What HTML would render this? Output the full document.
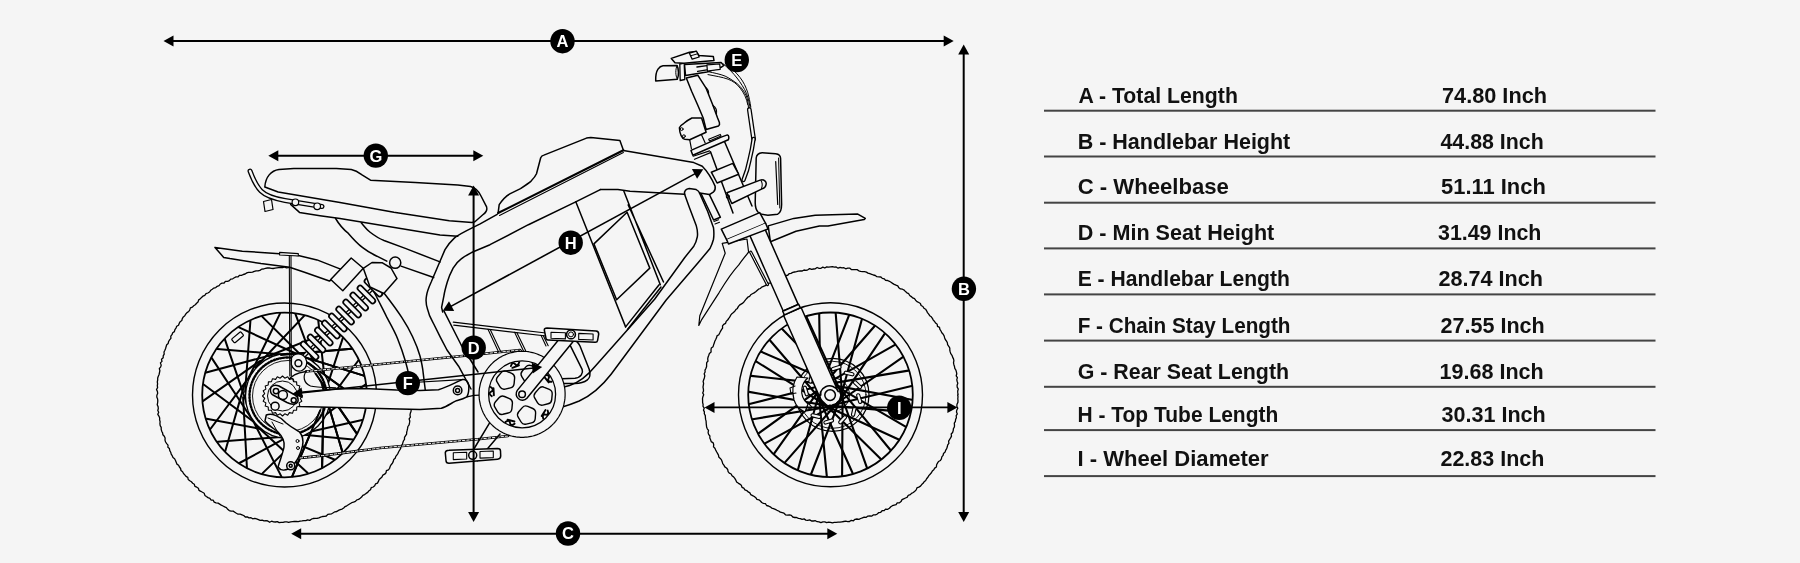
<!DOCTYPE html>
<html><head><meta charset="utf-8"><style>
html,body{margin:0;padding:0;background:#f5f5f5;}
svg{display:block;will-change:transform;}
text{font-family:"Liberation Sans",sans-serif;}
.t{font-size:22px;font-weight:700;fill:#111;}
</style></head><body>
<svg width="1800" height="563" viewBox="0 0 1800 563">
<rect width="1800" height="563" fill="#f5f5f5"/>
<g fill="none" stroke="#000" stroke-linejoin="round" stroke-linecap="round" stroke-width="1.5">
<path d="M957.6,394.8 L958.0,396.7 L957.8,398.6 L958.0,400.5 L957.9,402.4 L957.0,404.3 L956.8,406.2 L957.8,408.2 L956.8,410.0 L956.5,411.9 L957.3,413.9 L956.2,415.7 L956.4,417.7 L955.6,419.4 L955.4,421.3 L954.3,423.1 L954.5,425.1 L954.4,427.0 L953.4,428.7 L953.2,430.6 L952.6,432.5 L951.2,434.0 L951.5,436.1 L950.6,437.9 L949.6,439.5 L948.6,441.1 L948.9,443.3 L947.7,444.9 L947.3,446.8 L946.7,448.6 L945.6,450.3 L945.1,452.1 L943.5,453.5 L943.1,455.4 L941.8,456.9 L941.4,458.9 L940.4,460.5 L938.5,461.5 L937.5,463.2 L936.6,464.8 L936.4,467.0 L934.7,468.1 L933.8,469.8 L932.3,471.1 L931.4,472.8 L930.1,474.2 L928.8,475.6 L927.9,477.3 L926.6,478.8 L925.7,480.5 L924.2,481.7 L923.1,483.3 L921.7,484.6 L920.5,486.1 L918.8,487.1 L916.9,487.9 L916.2,489.9 L914.8,491.3 L913.3,492.5 L911.5,493.4 L910.2,494.7 L908.2,495.3 L907.3,497.2 L905.5,498.0 L903.7,498.8 L902.0,499.6 L901.0,501.6 L899.5,502.8 L897.2,502.8 L896.1,504.6 L894.2,505.1 L892.4,505.7 L890.8,506.8 L889.4,508.3 L887.8,509.3 L885.5,509.1 L884.2,510.6 L882.1,510.7 L880.7,512.3 L878.8,512.6 L877.3,514.0 L875.5,514.8 L873.5,514.8 L871.9,516.1 L869.8,515.8 L867.9,516.1 L866.3,517.3 L864.2,517.1 L862.5,517.8 L860.7,518.5 L858.9,519.3 L856.9,519.0 L855.0,519.3 L853.4,520.8 L851.3,520.3 L849.6,521.5 L847.7,521.7 L845.7,521.2 L843.8,521.5 L841.9,521.8 L840.0,522.1 L838.1,522.2 L836.2,522.3 L834.3,522.4 L832.4,522.9 L830.5,522.3 L828.6,522.2 L826.7,522.6 L824.8,521.8 L822.9,521.8 L820.9,522.6 L819.1,521.8 L817.2,521.7 L815.4,520.7 L813.4,521.0 L811.5,521.0 L809.7,519.9 L807.7,520.4 L805.8,520.1 L804.1,518.9 L802.1,519.3 L800.3,518.6 L798.4,518.4 L796.6,517.5 L794.7,517.5 L792.8,517.0 L791.3,515.4 L789.5,514.9 L787.4,515.1 L785.5,514.8 L784.0,513.2 L782.2,512.7 L780.3,512.2 L778.7,511.0 L777.0,510.3 L775.3,509.4 L773.5,508.7 L771.7,508.1 L770.2,506.8 L768.5,506.0 L766.6,505.5 L765.4,503.7 L763.4,503.3 L761.7,502.5 L760.4,501.0 L758.9,499.8 L756.9,499.4 L755.8,497.7 L754.3,496.5 L752.6,495.6 L750.8,494.7 L749.9,492.9 L748.2,491.9 L746.8,490.6 L744.9,489.9 L743.8,488.2 L742.0,487.3 L741.3,485.3 L739.8,484.1 L738.2,483.1 L736.6,481.9 L735.8,480.1 L734.8,478.4 L733.6,476.9 L732.0,475.8 L731.2,474.0 L729.3,473.1 L728.1,471.6 L727.7,469.5 L726.5,468.0 L724.8,466.9 L723.9,465.1 L722.7,463.7 L722.2,461.7 L721.5,459.9 L720.3,458.4 L718.8,457.1 L718.5,455.1 L717.5,453.4 L716.6,451.8 L715.7,450.1 L714.9,448.3 L713.5,446.9 L713.7,444.7 L713.2,442.9 L711.2,441.6 L710.6,439.8 L709.8,438.0 L709.9,436.0 L708.6,434.4 L708.1,432.6 L708.5,430.4 L707.3,428.8 L706.6,427.0 L706.4,425.1 L706.2,423.2 L706.1,421.2 L705.6,419.4 L705.4,417.5 L705.3,415.6 L704.3,413.8 L704.4,411.9 L703.5,410.1 L704.3,408.1 L703.0,406.3 L703.1,404.3 L702.6,402.5 L702.6,400.5 L702.5,398.6 L702.9,396.7 L703.7,394.8 L702.7,392.9 L703.5,391.0 L703.4,389.1 L703.0,387.2 L703.3,385.3 L703.6,383.4 L703.1,381.4 L703.8,379.6 L704.4,377.7 L704.8,375.8 L704.2,373.8 L705.1,372.0 L705.0,370.1 L706.0,368.3 L706.6,366.5 L706.6,364.6 L706.7,362.6 L708.0,361.0 L707.7,358.9 L708.1,357.0 L708.8,355.3 L709.4,353.4 L711.1,352.0 L711.0,349.9 L711.3,348.0 L713.1,346.7 L713.6,344.8 L714.3,343.1 L714.8,341.2 L715.7,339.5 L716.5,337.8 L717.0,335.9 L718.8,334.7 L719.7,333.0 L720.5,331.3 L721.5,329.7 L722.6,328.1 L722.5,325.8 L723.7,324.3 L725.6,323.3 L726.2,321.4 L727.6,320.0 L728.7,318.5 L729.8,316.9 L730.7,315.2 L731.9,313.7 L733.4,312.5 L734.8,311.2 L735.9,309.6 L737.4,308.4 L738.3,306.6 L739.5,305.1 L741.1,304.1 L742.8,303.1 L744.1,301.7 L745.3,300.2 L746.5,298.7 L747.8,297.2 L749.6,296.4 L750.7,294.8 L752.4,293.8 L754.1,292.9 L755.7,291.8 L757.1,290.5 L758.5,289.2 L760.3,288.5 L761.7,287.1 L763.5,286.4 L765.3,285.7 L766.7,284.3 L768.3,283.2 L770.4,283.1 L771.8,281.7 L773.5,280.9 L774.9,279.4 L776.6,278.6 L778.7,278.5 L780.2,277.0 L782.0,276.4 L784.0,276.4 L785.7,275.5 L787.7,275.3 L789.1,273.7 L791.0,273.3 L792.8,272.4 L794.6,272.0 L796.5,271.7 L798.3,271.1 L800.3,270.8 L802.3,271.0 L804.0,270.0 L806.0,270.4 L807.8,269.8 L809.6,268.6 L811.6,269.4 L813.5,269.0 L815.3,268.8 L817.1,267.5 L819.1,268.3 L821.0,268.3 L822.8,267.1 L824.8,268.0 L826.7,266.9 L828.6,267.1 L830.5,266.8 L832.4,266.7 L834.3,267.2 L836.2,267.0 L838.1,268.2 L840.1,267.3 L841.9,267.8 L843.9,267.7 L845.7,268.8 L847.7,268.1 L849.6,268.1 L851.3,269.6 L853.2,269.6 L855.2,269.6 L857.1,269.6 L858.8,270.8 L860.6,271.4 L862.5,271.7 L864.5,271.7 L866.4,272.1 L868.0,273.1 L869.8,273.7 L871.7,274.3 L873.4,275.0 L875.3,275.5 L876.9,276.7 L878.9,276.8 L880.9,277.0 L882.3,278.4 L884.2,278.8 L885.6,280.4 L887.7,280.5 L889.4,281.3 L891.0,282.3 L892.6,283.4 L894.2,284.4 L896.0,285.2 L897.8,285.9 L898.9,287.8 L900.4,288.9 L902.5,289.2 L904.2,290.1 L905.5,291.6 L906.9,292.8 L908.7,293.7 L909.7,295.5 L911.3,296.6 L912.7,297.9 L914.5,298.7 L915.6,300.2 L917.0,301.6 L918.8,302.5 L920.4,303.5 L921.1,305.5 L922.9,306.5 L923.9,308.2 L925.6,309.2 L926.6,310.8 L927.5,312.6 L928.7,314.1 L929.7,315.7 L931.3,316.8 L932.4,318.4 L933.3,320.1 L934.6,321.5 L935.6,323.1 L937.2,324.3 L937.5,326.4 L939.5,327.4 L939.9,329.4 L941.0,331.0 L941.8,332.7 L943.2,334.2 L944.1,335.9 L944.6,337.7 L945.3,339.5 L946.5,341.1 L947.4,342.7 L947.6,344.7 L948.8,346.3 L949.8,348.0 L949.8,350.0 L950.2,351.9 L950.8,353.7 L952.0,355.3 L952.6,357.1 L953.5,358.9 L953.9,360.7 L953.5,362.8 L953.9,364.7 L954.5,366.5 L954.8,368.4 L955.9,370.1 L956.4,371.9 L956.8,373.8 L956.2,375.8 L957.4,377.6 L956.8,379.6 L957.2,381.5 L957.8,383.3 L957.1,385.3 L957.2,387.2 L958.3,389.1 L957.7,391.0 L957.8,392.9 L958.1,394.8" stroke-width="1.3"/>
<circle cx="830.5" cy="394.8" r="92.0" stroke-width="1.4"/>
<circle cx="830.5" cy="394.8" r="82.3" stroke-width="1.8"/>
<line x1="911.8" y1="399.8" x2="832.3" y2="385.1" stroke-width="2.1"/>
<line x1="910.1" y1="412.4" x2="829.6" y2="405.6" stroke-width="2.1"/>
<line x1="905.5" y1="426.6" x2="835.7" y2="385.9" stroke-width="2.1"/>
<line x1="898.7" y1="439.5" x2="825.4" y2="405.8" stroke-width="2.1"/>
<line x1="890.4" y1="450.0" x2="839.1" y2="387.7" stroke-width="2.1"/>
<line x1="880.8" y1="458.9" x2="823.2" y2="402.3" stroke-width="2.1"/>
<line x1="866.9" y1="467.7" x2="840.0" y2="391.5" stroke-width="2.1"/>
<line x1="852.7" y1="473.2" x2="819.6" y2="399.7" stroke-width="2.1"/>
<line x1="842.1" y1="475.5" x2="842.6" y2="394.9" stroke-width="2.1"/>
<line x1="826.8" y1="476.2" x2="818.9" y2="395.9" stroke-width="2.1"/>
<line x1="811.1" y1="474.0" x2="840.3" y2="398.6" stroke-width="2.1"/>
<line x1="798.0" y1="469.5" x2="819.5" y2="391.8" stroke-width="2.1"/>
<line x1="785.0" y1="462.4" x2="838.3" y2="401.7" stroke-width="2.1"/>
<line x1="774.1" y1="453.7" x2="820.6" y2="387.8" stroke-width="2.1"/>
<line x1="765.0" y1="443.3" x2="835.8" y2="404.5" stroke-width="2.1"/>
<line x1="758.6" y1="433.3" x2="824.1" y2="385.9" stroke-width="2.1"/>
<line x1="752.7" y1="419.2" x2="832.4" y2="406.2" stroke-width="2.1"/>
<line x1="749.5" y1="404.0" x2="827.7" y2="384.0" stroke-width="2.1"/>
<line x1="749.1" y1="391.9" x2="828.5" y2="406.0" stroke-width="2.1"/>
<line x1="751.2" y1="375.9" x2="831.6" y2="384.6" stroke-width="2.1"/>
<line x1="756.1" y1="361.4" x2="824.4" y2="404.4" stroke-width="2.1"/>
<line x1="761.3" y1="351.8" x2="835.3" y2="383.8" stroke-width="2.1"/>
<line x1="769.9" y1="340.3" x2="822.5" y2="401.7" stroke-width="2.1"/>
<line x1="782.2" y1="329.1" x2="838.5" y2="387.0" stroke-width="2.1"/>
<line x1="793.7" y1="322.1" x2="819.8" y2="398.5" stroke-width="2.1"/>
<line x1="806.5" y1="316.9" x2="840.1" y2="390.4" stroke-width="2.1"/>
<line x1="819.2" y1="314.1" x2="820.5" y2="395.0" stroke-width="2.1"/>
<line x1="835.7" y1="313.5" x2="842.1" y2="393.9" stroke-width="2.1"/>
<line x1="849.0" y1="315.4" x2="819.7" y2="390.6" stroke-width="2.1"/>
<line x1="861.8" y1="319.5" x2="840.6" y2="397.5" stroke-width="2.1"/>
<line x1="874.5" y1="326.2" x2="821.5" y2="387.0" stroke-width="2.1"/>
<line x1="884.6" y1="333.9" x2="839.6" y2="400.9" stroke-width="2.1"/>
<line x1="894.9" y1="344.9" x2="824.8" y2="384.7" stroke-width="2.1"/>
<line x1="902.8" y1="357.2" x2="836.6" y2="403.5" stroke-width="2.1"/>
<line x1="908.3" y1="370.6" x2="828.7" y2="383.9" stroke-width="2.1"/>
<line x1="911.5" y1="386.0" x2="833.0" y2="405.1" stroke-width="2.1"/>
<circle cx="832.5" cy="394.8" r="36.5" stroke-width="1.3"/>
<circle cx="832.5" cy="394.8" r="33.5" stroke-width="0.9"/>
<rect x="-5" y="-1.6" width="10" height="3.2" rx="1.6" transform="translate(859.2,398.6) rotate(73.0)" fill="#f5f5f5" stroke-width="1.1"/>
<rect x="-5" y="-1.6" width="10" height="3.2" rx="1.6" transform="translate(853.8,411.4) rotate(103.0)" fill="#f5f5f5" stroke-width="1.1"/>
<rect x="-5" y="-1.6" width="10" height="3.2" rx="1.6" transform="translate(842.6,419.8) rotate(133.0)" fill="#f5f5f5" stroke-width="1.1"/>
<rect x="-5" y="-1.6" width="10" height="3.2" rx="1.6" transform="translate(828.7,421.5) rotate(163.0)" fill="#f5f5f5" stroke-width="1.1"/>
<rect x="-5" y="-1.6" width="10" height="3.2" rx="1.6" transform="translate(815.9,416.1) rotate(193.0)" fill="#f5f5f5" stroke-width="1.1"/>
<rect x="-5" y="-1.6" width="10" height="3.2" rx="1.6" transform="translate(807.5,404.9) rotate(223.0)" fill="#f5f5f5" stroke-width="1.1"/>
<rect x="-5" y="-1.6" width="10" height="3.2" rx="1.6" transform="translate(805.8,391.0) rotate(253.0)" fill="#f5f5f5" stroke-width="1.1"/>
<rect x="-5" y="-1.6" width="10" height="3.2" rx="1.6" transform="translate(811.2,378.2) rotate(283.0)" fill="#f5f5f5" stroke-width="1.1"/>
<rect x="-5" y="-1.6" width="10" height="3.2" rx="1.6" transform="translate(822.4,369.8) rotate(313.0)" fill="#f5f5f5" stroke-width="1.1"/>
<rect x="-5" y="-1.6" width="10" height="3.2" rx="1.6" transform="translate(836.3,368.1) rotate(343.0)" fill="#f5f5f5" stroke-width="1.1"/>
<rect x="-5" y="-1.6" width="10" height="3.2" rx="1.6" transform="translate(849.1,373.5) rotate(373.0)" fill="#f5f5f5" stroke-width="1.1"/>
<rect x="-5" y="-1.6" width="10" height="3.2" rx="1.6" transform="translate(857.5,384.7) rotate(403.0)" fill="#f5f5f5" stroke-width="1.1"/>
<circle cx="832.5" cy="394.8" r="17.0" stroke-width="1.0"/>
<path d="M797,377 C793,383 792,392 794,400 C796,406 800,410 805,412 L808,404 C803,400 801,394 802,388 C803,383 805,380 808,378 Z" stroke-width="1.2" fill="#f5f5f5"/>
<path d="M795,386 L790,388 L791,394 L796,393" stroke-width="1.1"/>
<path d="M411.2,377.2 L410.5,379.2 L410.9,381.1 L410.9,383.0 L411.1,384.9 L412.1,386.7 L412.2,388.6 L411.5,390.6 L411.5,392.5 L411.9,394.4 L412.3,396.3 L412.4,398.2 L412.2,400.1 L411.9,402.0 L411.2,403.9 L411.4,405.8 L410.9,407.7 L411.2,409.6 L411.0,411.5 L410.3,413.3 L410.0,415.2 L410.4,417.2 L409.1,418.9 L409.8,421.0 L409.5,422.9 L409.1,424.8 L407.9,426.5 L407.6,428.4 L407.2,430.2 L406.7,432.1 L406.6,434.1 L405.6,435.7 L404.5,437.4 L404.5,439.4 L403.4,441.0 L402.8,442.9 L402.3,444.7 L400.6,446.1 L400.8,448.2 L399.8,449.9 L398.8,451.5 L398.0,453.3 L397.0,454.9 L395.8,456.4 L395.2,458.3 L393.7,459.6 L393.2,461.6 L392.4,463.3 L391.1,464.7 L390.2,466.4 L389.6,468.3 L388.4,469.8 L386.4,470.7 L386.0,472.8 L384.7,474.2 L382.8,475.2 L382.0,476.9 L380.6,478.2 L379.2,479.5 L378.4,481.4 L377.5,483.1 L375.5,483.9 L374.7,485.8 L373.2,487.0 L371.2,487.7 L370.5,489.8 L368.9,490.8 L367.7,492.4 L366.1,493.4 L364.6,494.6 L362.8,495.4 L361.6,497.1 L360.2,498.3 L358.6,499.4 L356.7,500.0 L355.4,501.4 L353.5,502.2 L351.7,502.7 L350.0,503.7 L348.4,504.7 L346.8,505.8 L345.1,506.6 L343.7,507.9 L342.1,509.1 L340.3,509.7 L338.5,510.4 L336.9,511.5 L334.9,511.8 L333.3,512.8 L331.6,513.8 L329.7,514.1 L327.8,514.4 L326.3,516.0 L324.4,516.4 L322.5,516.5 L320.6,517.1 L318.9,517.8 L317.1,518.4 L315.1,518.4 L313.2,518.5 L311.4,519.2 L309.7,520.4 L307.6,519.9 L305.8,520.6 L303.9,520.6 L302.0,520.9 L300.1,521.1 L298.2,521.6 L296.3,521.5 L294.4,521.5 L292.5,521.7 L290.6,521.9 L288.7,522.4 L286.8,521.9 L284.9,521.8 L283.0,522.4 L281.1,522.3 L279.2,522.7 L277.3,521.7 L275.4,522.0 L273.5,521.9 L271.6,521.2 L269.6,522.3 L267.8,521.0 L266.0,520.6 L264.0,520.8 L262.2,520.1 L260.2,520.3 L258.4,519.6 L256.6,518.9 L254.8,518.3 L252.7,518.8 L251.0,517.7 L249.0,517.9 L247.3,516.9 L245.3,517.0 L243.7,515.5 L242.0,514.8 L240.2,514.2 L238.1,514.2 L236.4,513.3 L234.8,512.2 L233.2,511.1 L231.1,511.1 L229.2,510.6 L227.7,509.3 L226.4,507.7 L224.7,506.9 L223.0,506.0 L221.3,505.2 L219.7,504.1 L218.1,503.1 L216.0,502.8 L214.2,502.1 L213.2,500.2 L211.0,500.0 L209.9,498.3 L208.0,497.6 L206.4,496.5 L204.9,495.4 L204.2,493.2 L202.5,492.3 L200.8,491.3 L199.0,490.4 L198.4,488.3 L196.8,487.2 L194.9,486.4 L194.3,484.3 L192.7,483.2 L191.4,481.8 L189.8,480.7 L188.2,479.5 L187.8,477.4 L186.0,476.4 L184.8,474.9 L183.5,473.5 L182.6,471.8 L181.0,470.5 L180.6,468.5 L179.4,467.0 L178.6,465.3 L176.9,464.1 L176.2,462.3 L175.5,460.5 L174.6,458.8 L173.0,457.5 L172.2,455.7 L171.2,454.1 L170.7,452.2 L169.8,450.6 L169.4,448.6 L167.9,447.2 L168.0,445.1 L166.7,443.6 L165.6,442.0 L165.0,440.1 L165.1,438.1 L164.3,436.3 L162.9,434.8 L162.6,432.9 L161.7,431.2 L161.2,429.3 L161.2,427.3 L160.2,425.6 L159.9,423.7 L160.1,421.7 L159.6,419.8 L159.7,417.9 L158.9,416.1 L157.8,414.3 L158.7,412.3 L157.8,410.5 L158.3,408.5 L158.1,406.6 L157.2,404.8 L157.6,402.8 L157.8,400.9 L157.6,399.0 L156.8,397.1 L156.9,395.2 L157.7,393.3 L157.4,391.4 L156.5,389.5 L157.6,387.6 L157.3,385.7 L157.6,383.8 L157.3,381.8 L157.7,380.0 L157.7,378.0 L158.3,376.2 L159.1,374.4 L159.5,372.5 L159.9,370.7 L159.3,368.6 L160.7,366.9 L161.2,365.1 L160.4,362.9 L162.0,361.4 L161.5,359.3 L163.2,357.8 L163.2,355.8 L164.2,354.1 L164.0,352.0 L164.9,350.3 L165.6,348.5 L166.1,346.7 L166.7,344.8 L168.2,343.4 L168.6,341.5 L169.6,339.9 L170.9,338.4 L170.8,336.2 L172.0,334.7 L172.7,332.8 L174.4,331.6 L174.9,329.7 L176.0,328.1 L176.7,326.3 L178.5,325.2 L179.2,323.4 L180.2,321.7 L181.8,320.5 L182.3,318.6 L183.3,316.9 L184.8,315.7 L185.8,314.0 L187.0,312.6 L188.7,311.5 L189.8,309.9 L190.4,307.9 L192.4,307.1 L193.7,305.7 L195.3,304.7 L196.6,303.2 L198.0,302.0 L198.7,299.9 L200.3,298.8 L201.6,297.4 L203.0,296.1 L204.8,295.3 L206.0,293.7 L207.9,293.0 L209.5,292.0 L210.7,290.3 L212.3,289.2 L213.8,288.1 L215.8,287.6 L217.2,286.3 L219.1,285.7 L220.3,284.0 L222.0,283.2 L224.1,283.0 L225.4,281.3 L227.6,281.4 L229.4,280.7 L230.7,279.1 L232.7,278.8 L234.3,277.8 L236.0,276.9 L238.1,276.9 L239.5,275.3 L241.5,275.3 L243.3,274.5 L245.1,274.0 L246.8,272.9 L248.6,272.3 L250.6,272.4 L252.5,272.2 L254.3,271.4 L256.1,270.8 L258.1,270.9 L259.9,270.4 L261.6,269.2 L263.5,269.0 L265.4,268.3 L267.3,268.0 L269.2,267.9 L271.2,268.4 L273.1,268.5 L275.0,268.1 L276.8,267.8 L278.7,267.6 L280.7,267.5 L282.6,267.7 L284.5,267.0 L286.4,267.8 L288.3,267.6 L290.2,267.1 L292.1,267.3 L294.0,268.1 L295.9,268.4 L297.9,267.8 L299.6,269.1 L301.5,269.2 L303.5,268.9 L305.4,269.2 L307.2,270.0 L309.0,270.5 L310.9,270.7" stroke-width="1.3"/>
<circle cx="284.5" cy="395.0" r="92.0" stroke-width="1.4"/>
<circle cx="284.5" cy="395.0" r="82.3" stroke-width="1.8"/>
<line x1="365.5" y1="404.4" x2="307.8" y2="362.7" stroke-width="2.0"/>
<line x1="362.1" y1="420.0" x2="293.5" y2="435.4" stroke-width="2.0"/>
<line x1="356.5" y1="433.1" x2="315.6" y2="373.6" stroke-width="2.0"/>
<line x1="352.8" y1="439.5" x2="280.8" y2="432.5" stroke-width="2.0"/>
<line x1="342.5" y1="452.2" x2="322.1" y2="383.8" stroke-width="2.0"/>
<line x1="334.3" y1="459.5" x2="269.0" y2="432.1" stroke-width="2.0"/>
<line x1="322.1" y1="467.3" x2="323.6" y2="395.8" stroke-width="2.0"/>
<line x1="307.7" y1="473.1" x2="256.3" y2="425.4" stroke-width="2.0"/>
<line x1="292.3" y1="476.1" x2="320.3" y2="410.2" stroke-width="2.0"/>
<line x1="281.3" y1="476.4" x2="249.1" y2="412.9" stroke-width="2.0"/>
<line x1="262.4" y1="473.4" x2="313.0" y2="424.3" stroke-width="2.0"/>
<line x1="246.9" y1="467.3" x2="243.1" y2="397.3" stroke-width="2.0"/>
<line x1="239.5" y1="463.0" x2="302.8" y2="428.6" stroke-width="2.0"/>
<line x1="225.3" y1="451.0" x2="244.7" y2="383.6" stroke-width="2.0"/>
<line x1="217.7" y1="441.7" x2="287.6" y2="436.5" stroke-width="2.0"/>
<line x1="210.4" y1="429.0" x2="253.3" y2="371.7" stroke-width="2.0"/>
<line x1="206.6" y1="418.8" x2="277.6" y2="432.0" stroke-width="2.0"/>
<line x1="203.2" y1="400.9" x2="260.4" y2="360.7" stroke-width="2.0"/>
<line x1="203.7" y1="384.5" x2="260.7" y2="426.9" stroke-width="2.0"/>
<line x1="206.2" y1="372.5" x2="273.6" y2="354.4" stroke-width="2.0"/>
<line x1="211.8" y1="358.1" x2="250.7" y2="417.2" stroke-width="2.0"/>
<line x1="217.3" y1="348.9" x2="288.0" y2="355.1" stroke-width="2.0"/>
<line x1="224.9" y1="339.4" x2="248.1" y2="407.4" stroke-width="2.0"/>
<line x1="239.0" y1="327.4" x2="302.3" y2="356.5" stroke-width="2.0"/>
<line x1="250.4" y1="321.0" x2="245.1" y2="392.0" stroke-width="2.0"/>
<line x1="262.2" y1="316.6" x2="312.6" y2="366.8" stroke-width="2.0"/>
<line x1="280.0" y1="313.6" x2="248.8" y2="377.5" stroke-width="2.0"/>
<line x1="295.5" y1="314.2" x2="320.5" y2="381.7" stroke-width="2.0"/>
<line x1="304.1" y1="315.9" x2="255.3" y2="367.5" stroke-width="2.0"/>
<line x1="318.3" y1="320.8" x2="325.9" y2="390.4" stroke-width="2.0"/>
<line x1="333.5" y1="329.9" x2="268.8" y2="356.0" stroke-width="2.0"/>
<line x1="342.8" y1="338.1" x2="320.4" y2="406.7" stroke-width="2.0"/>
<line x1="351.6" y1="348.8" x2="281.0" y2="354.9" stroke-width="2.0"/>
<line x1="358.3" y1="360.5" x2="315.9" y2="418.1" stroke-width="2.0"/>
<line x1="363.7" y1="375.6" x2="297.0" y2="354.9" stroke-width="2.0"/>
<line x1="365.3" y1="384.5" x2="309.3" y2="427.4" stroke-width="2.0"/>
<circle cx="288.0" cy="396.0" r="42.5" stroke-width="1.3" fill="#f5f5f5"/>
<circle cx="288" cy="396" r="38.5" stroke-width="2.4" stroke-dasharray="1.5 1.7"/>
<circle cx="288.0" cy="396.0" r="35.5" stroke-width="0.9"/>
<line x1="365.5" y1="404.4" x2="307.8" y2="362.7" stroke-width="2.0"/>
<line x1="356.5" y1="433.1" x2="315.6" y2="373.6" stroke-width="2.0"/>
<line x1="342.5" y1="452.2" x2="322.1" y2="383.8" stroke-width="2.0"/>
<line x1="322.1" y1="467.3" x2="323.6" y2="395.8" stroke-width="2.0"/>
<line x1="292.3" y1="476.1" x2="320.3" y2="410.2" stroke-width="2.0"/>
<line x1="351.6" y1="348.8" x2="281.0" y2="354.9" stroke-width="2.0"/>
<line x1="363.7" y1="375.6" x2="297.0" y2="354.9" stroke-width="2.0"/>
<rect x="-6" y="-2.5" width="12" height="5" rx="1" transform="translate(237.6,337.3) rotate(-40)" fill="#f5f5f5" stroke-width="1.2"/>
<path d="M306,371.5 L470,355.2 L520,350 L521,351.5" stroke-width="2.6"/>
<path d="M306,371.5 L470,355.2 L520,350 L521,351.5" stroke-width="1.0" stroke="#f5f5f5" stroke-dasharray="2.5 1.8"/>
<path d="M300,458 C330,455 350,452 380,448 L480,439 L508,436" stroke-width="2.6"/>
<path d="M300,458 C330,455 350,452 380,448 L480,439 L508,436" stroke-width="1.0" stroke="#f5f5f5" stroke-dasharray="2.5 1.8"/>
<path d="M306,371.5 C296,373 290,377 288,381" stroke-width="1.6"/>
<path d="M306.5,371 C302.5,376 303.5,383 310.5,386 C315,387.5 325,387.5 336,387.8" stroke-width="1.2"/>
<path d="M215,247.4 L242.3,251.2 L279.6,253.7 L298.3,255.5 L317,259.9 L339.3,268.6 L345,271 L329.4,281 L304.5,272.3 L289.6,267.3 L261,263.6 L229.9,258.6 L223.7,257.4 Z" fill="#f5f5f5"/>
<path d="M289.3,254 L289.8,376 M291,254 L291.3,376" stroke-width="1.1"/>
<path d="M279.6,252.4 L298.3,253.6 L298.3,256.0 L279.6,255.0Z" stroke-width="1.1" fill="#f5f5f5"/>
<circle cx="291.0" cy="381.0" r="2.8" stroke-width="1.1"/>
<path d="M335.6,218.5 C340,226 344,230 348.4,233.4 C354,240 358,244 362.7,247.7 C368,252 372,254 376.9,256.2 L386.8,261.2"/>
<path d="M361.2,222.8 C364,226 366,229 369.8,232 C375,236 379,238.5 384,240.5 L405.3,248.4 L440,261.9"/>
<path d="M401,266.1 L433.7,277.5"/>
<path d="M370,287 C373,290 375,293 376.3,296.3 C380,304 384,311 387,317.7 C391,325 395,332 397.7,339 C400.5,346 403,353 405.1,360.3 C406.5,365 407.7,369 408.3,373.1 L409.4,391"/>
<path d="M379,286 C381,289 383,291.5 384.9,294.2 C391,302 397,310 401.9,317.7 C406,324 409.5,330 412.6,336.8 C415.5,343 418,349 420,356 C421.5,362 422.6,367 423.2,373.1 L425.4,391"/>
<path d="M377.0,284.0 L296.0,363.8" stroke-width="4"/>
<path d="M377.0,284.0 L296.0,363.8" stroke-width="1.6" stroke="#f5f5f5"/>
<rect x="-11.5" y="-2.6" width="23.0" height="5.2" rx="2.6" transform="translate(373.4,287.5) rotate(-134.6)" fill="#f5f5f5" stroke-width="1.7"/>
<rect x="-11.5" y="-2.6" width="23.0" height="5.2" rx="2.6" transform="translate(366.4,294.5) rotate(-134.6)" fill="#f5f5f5" stroke-width="1.7"/>
<rect x="-11.5" y="-2.6" width="23.0" height="5.2" rx="2.6" transform="translate(359.2,301.5) rotate(-134.6)" fill="#f5f5f5" stroke-width="1.7"/>
<rect x="-11.5" y="-2.6" width="23.0" height="5.2" rx="2.6" transform="translate(352.1,308.5) rotate(-134.6)" fill="#f5f5f5" stroke-width="1.7"/>
<rect x="-11.5" y="-2.6" width="23.0" height="5.2" rx="2.6" transform="translate(345.1,315.5) rotate(-134.6)" fill="#f5f5f5" stroke-width="1.7"/>
<rect x="-11.5" y="-2.6" width="23.0" height="5.2" rx="2.6" transform="translate(337.9,322.5) rotate(-134.6)" fill="#f5f5f5" stroke-width="1.7"/>
<rect x="-11.5" y="-2.6" width="23.0" height="5.2" rx="2.6" transform="translate(330.9,329.5) rotate(-134.6)" fill="#f5f5f5" stroke-width="1.7"/>
<rect x="-11.5" y="-2.6" width="23.0" height="5.2" rx="2.6" transform="translate(323.8,336.5) rotate(-134.6)" fill="#f5f5f5" stroke-width="1.7"/>
<rect x="-11.5" y="-2.6" width="23.0" height="5.2" rx="2.6" transform="translate(316.6,343.5) rotate(-134.6)" fill="#f5f5f5" stroke-width="1.7"/>
<rect x="-11.5" y="-2.6" width="23.0" height="5.2" rx="2.6" transform="translate(309.6,350.5) rotate(-134.6)" fill="#f5f5f5" stroke-width="1.7"/>
<path d="M330.7,279.5 L351.2,258.0 L363.3,268.3 L342.8,290.7Z" fill="#f5f5f5"/>
<path d="M363.3,268.3 L372,262.5 L382,262.7 L391,268 L397,278.6 L383.8,293.5 L370,287 Z" fill="#f5f5f5"/>
<circle cx="395.2" cy="262.7" r="5.6" fill="#f5f5f5"/>
<path d="M291.5,358 C294,352.5 302,352.5 305.5,358 C308,362.5 306.5,368.5 302,370.5 C297.5,372.5 292.5,369.5 291.3,364.5 Z" stroke-width="1.3" fill="#f5f5f5"/>
<circle cx="298.4" cy="363.2" r="3.4" fill="#f5f5f5"/>
<path d="M400,383.2 L462,379.6" stroke-width="1.1"/>
<path d="M298,392.5 L334.4,389.1 L363.7,388.6 L396.6,390 L420,390.4 L438.5,389.7 C448,387 456,382 462.6,379.5 C466,379 468.5,382 468.8,386 C469,390 468.5,394 466.9,396.8 C463,399 459,400 455.5,401.1 C450,404 446,407 441.3,408.2 L420,409.6 L298.7,406.4 Z" fill="#f5f5f5"/>
<path d="M466.9,396.8 L474,395.4 L480,395.2" stroke-width="1.2"/>
<circle cx="457.6" cy="390.4" r="4.3" fill="#f5f5f5"/>
<circle cx="457.6" cy="390.4" r="2.0" fill="#f5f5f5"/>
<path d="M497.2,214.3 L479.7,224.2 C468,230 459,234 454.3,238.1 C449,243 447,246 445,249.6 L438.1,265.8 L431.2,282 C428,289 427,292 426.5,295.8 C425.5,301 426,305 427.7,309.7 C429,316 431,319 433.5,323.5 L440.4,337.4 L447,350 L458.6,366.2 L471,389"/>
<path d="M600.3,189.6 L574.7,202.4 L528.4,224.7 L490,244.7 L472.7,252 C467,255 464,256.5 461.2,258.9 C457,262 455,265 453.1,268.1 C450,274 448.5,278 447.3,282 C445.5,288 444.5,292 443.9,295.8 L441.6,307.4 L442.7,312"/>
<path d="M600.3,189.6 L617.9,189.6 L630,191.2 L684.6,194.2"/>
<path d="M443.9,310.8 L461.2,345 L478,372"/>
<path d="M453.3,322.2 L546,333 M453.8,325.2 L546,336" stroke-width="1.2"/>
<path d="M488,329.3 L498.6,352 M490.2,329.6 L500.8,351.7" stroke-width="1.1"/>
<path d="M514.6,332.3 L523.5,351 M516.8000000000001,332.6 L525.7,350.7" stroke-width="1.1"/>
<path d="M541,335.2 L546,346 M543.2,335.5 L548.2,345.7" stroke-width="1.1"/>
<path d="M546,334 L572,338.5 C576,340 578,342 580,346 L589.2,369.3 C590.5,374 590,378 587.4,379.9 C584,382.5 580,383.5 575,383.5 L553.7,383.5"/>
<path d="M566,342.5 C568,343 569,343.5 569.7,344.4 L582.1,369.3 C583.5,373 581,377.5 575,378.2 L555.5,379"/>
<path d="M684.6,194.2 L689.2,206.9 L696.2,225.4 C697.5,230 697.8,234 697.3,236.9 C696.5,241 695.5,243.5 693.8,246.2 L684.6,257.7 L654.6,299.2 L595.2,366.2 C588,375 580,382 569.6,385.5 L556,389"/>
<path d="M699.6,193.1 L707.7,211.5 L713.5,227.7 C714,232 714,236 713.5,239.2 C712.5,243 711.5,245.5 710,248.5 L698.5,262.3 L666.2,300 L611.1,374.2 C602,386 592,395 579.2,401 C572,404 566,406 560,407.8"/>
<path d="M684.6,194.2 C684,191 686,189 689.2,188.5 L696.2,189.6 C698,190.5 699,191.5 699.6,193.1"/>
<path d="M575.8,201.7 L625.6,326.9"/>
<path d="M623.9,191.3 L660.3,284.7 M628.2,205 L663.5,282"/>
<path d="M593.9,243.9 L627.1,212.2 L649.8,268.1 L616.6,299.8Z"/>
<path d="M625.6,326.9 L659.1,284.7 M627.5,329.5 L661,287"/>
<path d="M498.1,213.1 L499.2,204.6 C503,199 506,196 509.8,193.9 L520.5,188.6 C526,185 529,183 531.1,181.1 C534,178 535.5,176 536.5,173.7 L540.7,157.7 C541.5,156 542.5,155.5 543.9,155.1 L586.5,138.1 L590.8,137.5 L619.9,140.6 L623.4,150.3" fill="#f5f5f5"/>
<path d="M498.1,213.1 L623.4,150.3" stroke-width="2.2"/>
<path d="M499.5,215.4 L623.4,152.5" stroke-width="1.1"/>
<path d="M623.4,150.6 L693.8,162.6 L702.3,166.2 C708,172 712,179 715.1,186.1 C715.5,188.5 715,190.5 713.6,191.8 L709.4,194.6 L699.6,193.1"/>
<path d="M565.1,394.3 L565.1,395.8 L565.0,397.4 L564.9,398.9 L564.7,400.4 L564.4,401.9 L564.1,403.4 L563.8,404.9 L563.4,406.4 L562.9,407.9 L562.4,409.3 L561.8,410.8 L561.2,412.2 L560.6,413.5 L559.8,414.9 L559.1,416.2 L558.3,417.5 L557.4,418.8 L556.5,420.1 L555.6,421.3 L554.6,422.5 L553.6,423.6 L552.5,424.7 L551.4,425.8 L550.3,426.8 L549.1,427.8 L547.9,428.7 L546.6,429.6 L545.3,430.5 L544.0,431.3 L542.7,432.0 L541.3,432.8 L540.0,433.4 L538.6,434.0 L537.1,434.6 L535.7,435.1 L534.2,435.6 L532.7,436.0 L531.2,436.3 L529.7,436.6 L528.2,436.9 L526.7,437.1 L525.2,437.2 L523.6,437.3 L522.1,437.3 L520.6,437.3 L519.0,437.2 L517.5,437.1 L516.0,436.9 L514.5,436.6 L513.0,436.3 L511.5,436.0 L510.0,435.6 L508.5,435.1 L507.1,434.6 L505.6,434.0 L504.2,433.4 L502.9,432.8 L501.5,432.0 L500.2,431.3 L498.9,430.5 L497.6,429.6 L496.3,428.7 L495.1,427.8 L493.9,426.8 L492.8,425.8 L491.7,424.7 L490.6,423.6 L489.6,422.5 L488.6,421.3 L487.7,420.1 L486.8,418.8 L485.9,417.5 L485.1,416.2 L484.4,414.9 L483.6,413.5 L483.0,412.2 L482.4,410.8 L481.8,409.3 L481.3,407.9 L480.8,406.4 L480.4,404.9 L480.1,403.4 L479.8,401.9 L479.5,400.4 L479.3,398.9 L479.2,397.4 L479.1,395.8 L479.1,394.3 L479.1,392.8 L479.2,391.2 L479.3,389.7 L479.5,388.2 L479.8,386.7 L480.1,385.2 L480.4,383.7 L480.8,382.2 L481.3,380.7 L481.8,379.3 L482.4,377.8 L483.0,376.4 L483.6,375.1 L484.4,373.7 L485.1,372.4 L485.9,371.1 L486.8,369.8 L487.7,368.5 L488.6,367.3 L489.6,366.1 L490.6,365.0 L491.7,363.9 L492.8,362.8 L493.9,361.8 L495.1,360.8 L496.3,359.9 L497.6,359.0 L498.9,358.1 L500.2,357.3 L501.5,356.6 L502.9,355.8 L504.2,355.2 L505.6,354.6 L507.1,354.0 L508.5,353.5 L510.0,353.0 L511.5,352.6 L513.0,352.3 L514.5,352.0 L516.0,351.7 L517.5,351.5 L519.0,351.4 L520.6,351.3 L522.1,351.3 L523.6,351.3 L525.2,351.4 L526.7,351.5 L528.2,351.7 L529.7,352.0 L531.2,352.3 L532.7,352.6 L534.2,353.0 L535.7,353.5 L537.1,354.0 L538.6,354.6 L540.0,355.2 L541.3,355.8 L542.7,356.6 L544.0,357.3 L545.3,358.1 L546.6,359.0 L547.9,359.9 L549.1,360.8 L550.3,361.8 L551.4,362.8 L552.5,363.9 L553.6,365.0 L554.6,366.1 L555.6,367.3 L556.5,368.5 L557.4,369.8 L558.3,371.1 L559.1,372.4 L559.8,373.7 L560.6,375.1 L561.2,376.4 L561.8,377.8 L562.4,379.3 L562.9,380.7 L563.4,382.2 L563.8,383.7 L564.1,385.2 L564.4,386.7 L564.7,388.2 L564.9,389.7 L565.0,391.2 L565.1,392.8Z" stroke-width="1.2" fill="#f5f5f5"/>
<circle cx="522.1" cy="394.3" r="33.5" stroke-width="1.3"/>
<path d="M501.2,372.6 Q503.5,370.0 506.7,371.3 L511.7,373.4 Q514.9,374.8 514.6,378.2 L514.1,383.6 Q513.8,387.1 510.4,387.9 L505.1,389.1 Q501.8,389.9 500.0,386.9 L497.2,382.2 Q495.4,379.3 497.7,376.7Z" stroke-width="1.4"/>
<path d="M536.3,367.8 Q539.5,369.1 539.2,372.5 L538.7,378.0 Q538.4,381.4 535.1,382.2 L529.8,383.4 Q526.4,384.2 524.6,381.2 L521.8,376.6 Q520.0,373.6 522.3,371.0 L525.9,366.9 Q528.1,364.3 531.3,365.6Z" stroke-width="1.4"/>
<path d="M551.7,399.6 Q551.4,403.1 548.1,403.8 L542.8,405.1 Q539.4,405.8 537.6,402.9 L534.8,398.2 Q533.1,395.3 535.3,392.7 L538.9,388.6 Q541.2,385.9 544.3,387.3 L549.3,389.4 Q552.5,390.8 552.2,394.2Z" stroke-width="1.4"/>
<path d="M526.2,424.1 Q522.8,424.9 521.1,422.0 L518.3,417.3 Q516.5,414.3 518.7,411.7 L522.3,407.6 Q524.6,405.0 527.8,406.4 L532.8,408.5 Q535.9,409.8 535.6,413.3 L535.2,418.7 Q534.9,422.1 531.5,422.9Z" stroke-width="1.4"/>
<path d="M495.0,407.4 Q493.2,404.5 495.5,401.8 L499.0,397.8 Q501.3,395.1 504.5,396.5 L509.5,398.6 Q512.7,400.0 512.4,403.4 L511.9,408.8 Q511.6,412.3 508.2,413.0 L502.9,414.3 Q499.6,415.0 497.8,412.1Z" stroke-width="1.4"/>
<path d="M-4.5,0.5 C-3,-2.5 -1,-2.5 0,-0.5 C1,1.5 3,1.5 4.5,-1.5 M-3.5,2.5 L3.5,1.5" transform="translate(515.2,364.6) rotate(-13.0)" stroke-width="1.9"/>
<path d="M-4.5,0.5 C-3,-2.5 -1,-2.5 0,-0.5 C1,1.5 3,1.5 4.5,-1.5 M-3.5,2.5 L3.5,1.5" transform="translate(548.2,378.6) rotate(59.0)" stroke-width="1.9"/>
<path d="M-4.5,0.5 C-3,-2.5 -1,-2.5 0,-0.5 C1,1.5 3,1.5 4.5,-1.5 M-3.5,2.5 L3.5,1.5" transform="translate(545.1,414.3) rotate(131.0)" stroke-width="1.9"/>
<path d="M-4.5,0.5 C-3,-2.5 -1,-2.5 0,-0.5 C1,1.5 3,1.5 4.5,-1.5 M-3.5,2.5 L3.5,1.5" transform="translate(510.2,422.4) rotate(203.0)" stroke-width="1.9"/>
<path d="M-4.5,0.5 C-3,-2.5 -1,-2.5 0,-0.5 C1,1.5 3,1.5 4.5,-1.5 M-3.5,2.5 L3.5,1.5" transform="translate(491.7,391.6) rotate(275.0)" stroke-width="1.9"/>
<path d="M489.3,423.3 L473.3,450 M500,434 L477.3,460.7"/>
<path d="M445.3,452.7 C445.5,450.8 447,450.2 449,450.2 L497.5,448.5 C499.5,448.5 500.5,449.5 500.5,451 L500.7,456 C500.7,458 499.5,459 497.5,459.2 L449,463.3 C447,463.3 446,462.3 446,460.5 Z" fill="#f5f5f5"/>
<path d="M453.3,452.7 L466.7,452.2 L466.7,459.0 L453.3,459.6Z" stroke-width="1.1"/>
<path d="M480.0,451.5 L493.3,451.0 L493.3,457.6 L480.0,458.1Z" stroke-width="1.1"/>
<circle cx="472.7" cy="455.3" r="4.0" fill="#f5f5f5"/>
<path d="M526.9,398.2 A6.2,6.2 0 0 1 517.3,390.4 L566.2,330.5 L575.8,338.3 Z" fill="#f5f5f5"/>
<circle cx="522.1" cy="394.3" r="3.3"/>
<path d="M544.3,330 C544.3,328.5 545.5,328 547,328 L596,331 C598,331.2 598.7,332.2 598.7,334 L597.6,340.3 C597.4,341.7 596.5,342.3 595,342.2 L548,340 C546.5,340 545.8,339 545.8,337.5 Z" fill="#f5f5f5"/>
<path d="M551.0,332.2 L565.4,332.8 L565.4,338.9 L551.0,338.3Z" stroke-width="1.1"/>
<path d="M578.7,333.4 L593.1,334.0 L593.1,340.0 L578.7,339.4Z" stroke-width="1.1"/>
<circle cx="571.0" cy="334.4" r="4.4" stroke-width="1.6" fill="#f5f5f5"/>
<circle cx="571.0" cy="334.4" r="2.5" stroke-width="1"/>
<path d="M302.5,396.0 L300.3,398.3 L301.8,401.2 L299.1,402.9 L299.8,406.0 L296.8,407.0 L296.6,410.1 L293.5,410.3 L292.5,413.3 L289.4,412.6 L287.7,415.3 L284.8,413.8 L282.5,416.0 L280.2,413.8 L277.3,415.3 L275.6,412.6 L272.5,413.3 L271.5,410.3 L268.4,410.1 L268.2,407.0 L265.2,406.0 L265.9,402.9 L263.2,401.2 L264.7,398.3 L262.5,396.0 L264.7,393.7 L263.2,390.8 L265.9,389.1 L265.2,386.0 L268.2,385.0 L268.4,381.9 L271.5,381.7 L272.5,378.7 L275.6,379.4 L277.3,376.7 L280.2,378.2 L282.5,376.0 L284.8,378.2 L287.7,376.7 L289.4,379.4 L292.5,378.7 L293.5,381.7 L296.6,381.9 L296.8,385.0 L299.8,386.0 L299.1,389.1 L301.8,390.8 L300.3,393.7Z" stroke-width="1.1" fill="#f5f5f5"/>
<circle cx="282.5" cy="396.0" r="15.0" stroke-width="1"/>
<path d="M270.5,389 C271,385.5 275,384.5 279,386 L295,395 C299,397.5 299,402 296,403.5 C293.5,404.8 290,404 287,402.5 L273,395 C270.8,393.8 270.2,391.5 270.5,389 Z" fill="#f5f5f5"/>
<circle cx="276.0" cy="391.1" r="2.7"/>
<circle cx="282.9" cy="395.0" r="4.5"/>
<circle cx="293.7" cy="400.3" r="2.5"/>
<circle cx="275.1" cy="406.2" r="4.0" fill="#f5f5f5"/>
<path d="M266.3,415 C272,413 280,416 285.8,422.8 C292,428 297,430 299.5,432 C303,436 303.5,441 302.5,446 C301,452 299.5,456 297,460 C294.5,464 292,467 288,469 C284,471 280,470 278,467 C280,460 283,453 284,447 C285,441 282,436 278,432 C273,428 268,425 265,421 Z" fill="#f5f5f5"/>
<circle cx="290.7" cy="465.8" r="4.0" fill="#f5f5f5"/>
<circle cx="290.7" cy="465.8" r="1.5"/>
<circle cx="297.5" cy="441.0" r="1.5" stroke-width="1"/>
<circle cx="298.0" cy="448.0" r="1.5" stroke-width="1"/>
<path d="M268,418 L283,424 M272,422 L281,438" stroke-width="1"/>
<path d="M264.8,187 C265.5,177 271,170.5 279,169.5 L293.8,168.4 L336.4,168.4 L351.3,169.6 C357,171 360,173.5 362,174.9 L370.5,180.2 L415.2,182.4 L457.8,185.1 L470.6,186.6 C476,188 479,192 481,196 L486.6,206.9 C487.5,210 486,212.5 483.4,214.3 L474.9,221.8 L472,222.5 L449.3,220.7 L393.9,212.2 L340,202.6 L278.2,192 Z" fill="#f5f5f5"/>
<path d="M290.6,204.4 L299.5,212.4 L320,215.7 L340,218.6 L440,234.9 L457.8,236.3"/>
<path d="M250,171 C253,179 256,186 261,191 C266,196 274,198.5 285,200.5 L322,206.5" stroke-width="5"/>
<path d="M250,171 C253,179 256,186 261,191 C266,196 274,198.5 285,200.5 L322,206.5" stroke-width="2.4" stroke="#f5f5f5"/>
<circle cx="295.4" cy="202.3" r="3.3" stroke-width="1.2" fill="#f5f5f5"/>
<circle cx="317.2" cy="206.3" r="3.3" stroke-width="1.2" fill="#f5f5f5"/>
<path d="M263.5,201.5 L271.5,199.5 L273.0,209.5 L265.0,211.5Z" stroke-width="1.2" fill="#f5f5f5"/>
<path d="M768.2,225.9 L793.8,218.4 L815.2,215.2 L857.8,214.1 L865.3,218.4 L864.2,219.5 L828,225.9 L819.4,225.9 L796,231.2 L770.4,241.8 Z" fill="#f5f5f5"/>
<path d="M722.2,243.4 L725.2,253.2 L699.8,315.7 L698.8,325.5 L701.7,319.6 L719.3,292.3 C728,278 734,270 738.8,264.9 C742,260 745.5,256 748.6,252.2 L747,239 Z" stroke-width="1.2" fill="#f5f5f5"/>
<path d="M783.5,315.2 L820.7,399.4 A9.6,9.6 0 0 1 838.3,391.6 L801.1,307.5 Z" fill="#f5f5f5"/>
<circle cx="830.1" cy="395.1" r="5.3" fill="#f5f5f5"/>
<path d="M783.2,311.0 L798.2,304.4 L761.8,221.9 L746.8,228.6Z" fill="#f5f5f5"/>
<path d="M784.4,314.9 L800.3,307.8 L798.7,304.2 L782.7,311.2Z" fill="#f5f5f5"/>
<path d="M750.7,252.2 L767.4,284.5" stroke-width="3.2"/>
<path d="M750.7,252.2 L767.4,284.5" stroke-width="1.0" stroke="#f5f5f5"/>
<path d="M710.5,151.7 L733,213 M724.7,142 L752,206"/>
<path d="M701.5,194.5 L713.6,220 L720.4,217.3 L709.4,194.6"/>
<path d="M714,221.5 L718.5,219.8 M715,224 L719.5,222.3" stroke-width="1.1"/>
<path d="M689.7,139.8 L691.4,148.6 M701.6,134.9 L705.2,142.9" stroke-width="1.2"/>
<path d="M691,150.4 L721.2,137.1 L727.4,134.9 C729,135.2 729.2,138 728.3,139.8 L692.8,155.3 Z" fill="#f5f5f5"/>
<path d="M708.7,139.3 L720.3,134.4 L721,136 L709.5,141 Z" stroke-width="1.1" fill="#f5f5f5"/>
<path d="M693.2,156.2 L709.6,150.9 M694.5,159.3 L710.5,152.6" stroke-width="1.2"/>
<path d="M711.3,172.2 L732.8,163.4 L738.6,174.2 L717.1,183.0Z" fill="#f5f5f5"/>
<path d="M755.2,202.5 L756.2,158 C756.5,155 759,153 762.1,152.7 L775.7,153.7 C778.5,154 780.6,156 780.6,158.6 L781.6,204.5 C781.6,209 780,213 777.7,214.2 L767.9,215.2 C763,215 760,214 758.2,212.3 C756,210 755.2,206 755.2,202.5 Z" fill="#f5f5f5"/>
<path d="M775.7,161.5 L777.7,204.5" stroke-width="1.2"/>
<path d="M778.6,158 L779.8,208" stroke-width="1.0"/>
<path d="M726.9,192.8 L760.1,180.1 C764,179 767,181.5 766,184.8 C765.5,187 764,188.3 762,188.8 L731.8,203.5 Z" fill="#f5f5f5"/>
<circle cx="727.9" cy="196.7" r="1.6" stroke-width="1.1"/>
<path d="M761,180.5 C762.5,183 762.5,186 761.5,188.5" stroke-width="1.1"/>
<path d="M721.3,229.1 L759.7,212.6 L765.6,223.3 L726.7,239.8Z" fill="#f5f5f5"/>
<path d="M765.6,223.3 L768,229 L728.5,244 L726.7,239.8" fill="#f5f5f5"/>
<path d="M691.9,118 C688,120 686,121.5 683.9,123.3 C681,125 679.8,126.5 679.4,127.8 C679.5,131 680,133.5 681.2,135.8 C682,137.8 683.3,139 684.8,139.3 L689.7,139.8 L706.1,132.2 L701.6,118 Z" fill="#f5f5f5"/>
<circle cx="681.7" cy="129.1" r="1.4" stroke-width="1"/>
<circle cx="683.9" cy="136.2" r="1.4" stroke-width="1"/>
<path d="M686.3,78 L691.6,91.3 L697.9,105.5 L703.2,118 L706.1,129.5 L718.5,126 C719.8,125 719.8,124 719.4,122.5 L717.6,118 L713,105.5 L705.9,87.8 L697.9,75.3 Z" fill="#f5f5f5"/>
<path d="M705.9,87.8 C708,89.5 709,92 708.5,94.5 M713,105.5 C716,107.5 717,111 716.5,114" stroke-width="1.1"/>
<path d="M684.5,64.6 L721.1,62.4 L723.9,65.4 L721.1,67.3 L706.9,72 L685.5,75.5 Z" fill="#f5f5f5"/>
<path d="M696.9,67 L706.9,65.6 M697.6,71.3 L706.9,69.9" stroke-width="1.3"/>
<path d="M706.9,64.9 L719.7,64 L720.2,69.3 L707.4,71 Z" stroke-width="1.2" fill="#f5f5f5"/>
<path d="M655.7,81 C655.5,76 656.5,71.5 658,69.2 C659.5,67 661,66 663,65.8 L677,65.4 C678.8,68.5 679,76 677.3,79.2 L662,80.5 Z" fill="#f5f5f5"/>
<path d="M679.8,64 L684.2,63.2 L684.8,79.5 L680.2,80.5 Z" stroke-width="1.3" fill="#f5f5f5"/>
<path d="M677,65.5 C675.3,70 675.3,75 677.3,79.2" stroke-width="1.0"/>
<path d="M671.3,58.4 L689.5,52.2 L696,51.5 L699,55.5 L713.3,56.4 L714,60.6 L692,62.4 L684,63.2 L675,62.8 Z" fill="#f5f5f5"/>
<path d="M689.4,53.2 L696.5,51.2 L699.2,57 L692.2,59.2 Z" stroke-width="1.3" fill="#f5f5f5"/>
<path d="M690.6,55.8 L697.6,53.8" stroke-width="1.0"/>
<path d="M723.6,64.1 C728,68 731,71 734.2,74.6 C738,79 741.5,84 744.7,89.7 C747,94 749,100 750,107" stroke-width="1.0"/>
<path d="M725.1,63.3 C731,68 736,72 740.2,77.7 C743.5,82 746,87 747.8,92.8 C749,97 750,102 750.8,107" stroke-width="1.0"/>
<path d="M708,71.6 C714,73 720,74 725.1,76.1 C729,78 733,80.5 737.2,83.7 C741,87 744,91 746.3,95.8 C747.5,99 748.2,103 748.5,108" stroke-width="1.0"/>
<path d="M708,74.6 C715,76 722,77 728.1,79.2 C733,81 737,84 740.2,88.2 C744,93 746.5,98 747.8,104.8" stroke-width="1.0"/>
<path d="M749.3,109.5 L753.6,139" stroke-width="4.8"/>
<path d="M749.3,109.5 L753.6,139" stroke-width="2.1999999999999997" stroke="#f5f5f5"/>
<path d="M753.6,139 C752.5,147 751,154 749.5,160 C748,168 746,174 743.5,180" stroke-width="4.4"/>
<path d="M753.6,139 C752.5,147 751,154 749.5,160 C748,168 746,174 743.5,180" stroke-width="1.8000000000000003" stroke="#f5f5f5"/>
</g>
<line x1="169.5" y1="41.1" x2="947.7" y2="41.1" stroke="#000" stroke-width="2"/><path d="M163.5,41.1L173.5,35.6L173.5,46.6Z" fill="#000"/><path d="M953.7,41.1L943.7,46.6L943.7,35.6Z" fill="#000"/><line x1="963.7" y1="50.4" x2="963.7" y2="516.0" stroke="#000" stroke-width="2"/><path d="M963.7,44.4L969.2,54.4L958.2,54.4Z" fill="#000"/><path d="M963.7,522.0L958.2,512.0L969.2,512.0Z" fill="#000"/><line x1="297.2" y1="533.7" x2="831.3" y2="533.7" stroke="#000" stroke-width="2"/><path d="M291.2,533.7L301.2,528.2L301.2,539.2Z" fill="#000"/><path d="M837.3,533.7L827.3,539.2L827.3,528.2Z" fill="#000"/><line x1="473.6" y1="191.4" x2="473.6" y2="516.0" stroke="#000" stroke-width="2"/><path d="M473.6,185.4L479.1,195.4L468.1,195.4Z" fill="#000"/><path d="M473.6,522.0L468.1,512.0L479.1,512.0Z" fill="#000"/><line x1="274.3" y1="155.7" x2="477.3" y2="155.7" stroke="#000" stroke-width="2"/><path d="M268.3,155.7L278.3,150.2L278.3,161.2Z" fill="#000"/><path d="M483.3,155.7L473.3,161.2L473.3,150.2Z" fill="#000"/><line x1="448.1" y1="307.9" x2="698.0" y2="172.1" stroke="#000" stroke-width="1.6"/><path d="M442.8,310.8L449.0,301.2L454.2,310.9Z" fill="#000"/><path d="M703.3,169.2L697.1,178.8L691.9,169.1Z" fill="#000"/><line x1="710.5" y1="407.4" x2="951.4" y2="407.4" stroke="#000" stroke-width="1.6"/><path d="M704.5,407.4L714.5,401.9L714.5,412.9Z" fill="#000"/><path d="M957.4,407.4L947.4,412.9L947.4,401.9Z" fill="#000"/><line x1="298.2" y1="393.3" x2="536.2" y2="367.7" stroke="#000" stroke-width="1.6"/><path d="M292.2,393.9L301.6,387.4L302.7,398.3Z" fill="#000"/><path d="M542.2,367.1L532.8,373.6L531.7,362.7Z" fill="#000"/><circle cx="562.5" cy="41.2" r="12.2" fill="#000"/><text x="562.5" y="47.1" text-anchor="middle" font-size="16.5" font-weight="700" fill="#fff">A</text><circle cx="963.9" cy="288.8" r="12.2" fill="#000"/><text x="963.9" y="294.7" text-anchor="middle" font-size="16.5" font-weight="700" fill="#fff">B</text><circle cx="568" cy="533.5" r="12.2" fill="#000"/><text x="568" y="539.4" text-anchor="middle" font-size="16.5" font-weight="700" fill="#fff">C</text><circle cx="473.7" cy="347.6" r="12.2" fill="#000"/><text x="473.7" y="353.5" text-anchor="middle" font-size="16.5" font-weight="700" fill="#fff">D</text><circle cx="736.8" cy="60" r="12.2" fill="#000"/><text x="736.8" y="65.9" text-anchor="middle" font-size="16.5" font-weight="700" fill="#fff">E</text><circle cx="407.8" cy="383.1" r="12.2" fill="#000"/><text x="407.8" y="389.0" text-anchor="middle" font-size="16.5" font-weight="700" fill="#fff">F</text><circle cx="375.8" cy="155.6" r="12.2" fill="#000"/><text x="375.8" y="161.5" text-anchor="middle" font-size="16.5" font-weight="700" fill="#fff">G</text><circle cx="570.7" cy="242.7" r="12.2" fill="#000"/><text x="570.7" y="248.6" text-anchor="middle" font-size="16.5" font-weight="700" fill="#fff">H</text><circle cx="899.2" cy="407.8" r="12.2" fill="#000"/><text x="899.2" y="413.7" text-anchor="middle" font-size="16.5" font-weight="700" fill="#fff">I</text>
<text x="1078.50" y="102.7" class="t" textLength="159.40" lengthAdjust="spacingAndGlyphs">A - Total Length</text><text x="1442.00" y="102.7" class="t" textLength="105.00" lengthAdjust="spacingAndGlyphs">74.80 Inch</text><rect x="1044" y="109.7" width="611.5" height="2" fill="#444"/><text x="1077.70" y="148.5" class="t" textLength="212.60" lengthAdjust="spacingAndGlyphs">B - Handlebar Height</text><text x="1440.50" y="148.5" class="t" textLength="103.20" lengthAdjust="spacingAndGlyphs">44.88 Inch</text><rect x="1044" y="155.5" width="611.5" height="2" fill="#444"/><text x="1077.70" y="194.3" class="t" textLength="151.20" lengthAdjust="spacingAndGlyphs">C - Wheelbase</text><text x="1441.00" y="194.3" class="t" textLength="104.80" lengthAdjust="spacingAndGlyphs">51.11 Inch</text><rect x="1044" y="201.7" width="611.5" height="2" fill="#444"/><text x="1077.70" y="240.3" class="t" textLength="196.60" lengthAdjust="spacingAndGlyphs">D - Min Seat Height</text><text x="1438.00" y="240.3" class="t" textLength="103.40" lengthAdjust="spacingAndGlyphs">31.49 Inch</text><rect x="1044" y="247.4" width="611.5" height="2" fill="#444"/><text x="1077.70" y="286.4" class="t" textLength="212.20" lengthAdjust="spacingAndGlyphs">E - Handlebar Length</text><text x="1438.50" y="286.4" class="t" textLength="104.40" lengthAdjust="spacingAndGlyphs">28.74 Inch</text><rect x="1044" y="293.4" width="611.5" height="2" fill="#444"/><text x="1077.70" y="332.9" class="t" textLength="212.80" lengthAdjust="spacingAndGlyphs">F - Chain Stay Length</text><text x="1440.50" y="332.9" class="t" textLength="104.20" lengthAdjust="spacingAndGlyphs">27.55 Inch</text><rect x="1044" y="339.6" width="611.5" height="2" fill="#444"/><text x="1077.70" y="378.6" class="t" textLength="211.40" lengthAdjust="spacingAndGlyphs">G - Rear Seat Length</text><text x="1439.50" y="378.6" class="t" textLength="104.20" lengthAdjust="spacingAndGlyphs">19.68 Inch</text><rect x="1044" y="385.8" width="611.5" height="2" fill="#444"/><text x="1077.50" y="421.6" class="t" textLength="200.80" lengthAdjust="spacingAndGlyphs">H - Top Tube Length</text><text x="1441.50" y="421.6" class="t" textLength="104.20" lengthAdjust="spacingAndGlyphs">30.31 Inch</text><rect x="1044" y="429.1" width="611.5" height="2" fill="#444"/><text x="1077.50" y="466.4" class="t" textLength="191.20" lengthAdjust="spacingAndGlyphs">I - Wheel Diameter</text><text x="1440.50" y="466.4" class="t" textLength="103.80" lengthAdjust="spacingAndGlyphs">22.83 Inch</text><rect x="1044" y="475.1" width="611.5" height="2" fill="#444"/>
</svg>
</body></html>
